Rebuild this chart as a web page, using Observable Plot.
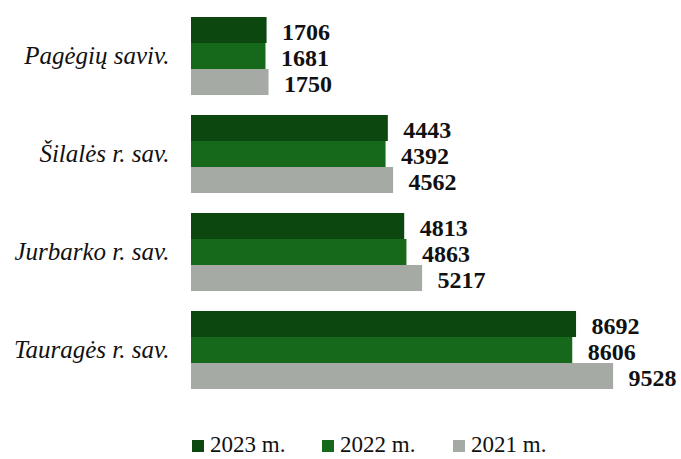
<!DOCTYPE html>
<html>
<head>
<meta charset="utf-8">
<script src="https://cdn.jsdelivr.net/npm/d3@7"></script>
<script src="https://cdn.jsdelivr.net/npm/@observablehq/plot@0.6"></script>
<style>
  html, body { margin: 0; padding: 0; background: #fff; }
  #chart svg { display: block; }
  .legend { position: relative; width: 681px; height: 39px; font-family: "Liberation Serif", "Times New Roman", serif; font-size: 23px; line-height: 23px; color: #111; }
  .legend .sw { position: absolute; top: 20px; width: 12px; height: 12px; }
  .legend .lbl { position: absolute; top: 13px; white-space: nowrap; }
</style>
</head>
<body>
<div id="chart"></div>
<script>
const categories = ["Pagėgių saviv.", "Šilalės r. sav.", "Jurbarko r. sav.", "Tauragės r. sav."];
const series = ["2023 m.", "2022 m.", "2021 m."];
const colors = ["#0c470f", "#16681b", "#a5aaa5"];
const values2023 = [1706, 4443, 4813, 8692];
const values2022 = [1681, 4392, 4863, 8606];
const values2021 = [1750, 4562, 5217, 9528];

const seriesValues = [values2023, values2022, values2021];
const data = [];
categories.forEach((c, i) => {
  series.forEach((s, j) => {
    data.push({cat: c, year: s, value: seriesValues[j][i]});
  });
});

const font = '"Liberation Serif", "Times New Roman", serif';

const chart = Plot.plot({
  width: 681,
  height: 420,
  marginLeft: 191,
  marginRight: 47,
  marginTop: 15,
  marginBottom: 29,
  style: {fontFamily: font, background: "#fff"},
  x: {domain: [0, 10000], axis: null},
  y: {domain: series, padding: 0, axis: null},
  fy: {domain: categories, paddingInner: 0.19, paddingOuter: 0, label: null},
  color: {domain: series, range: colors},
  marks: [
    Plot.barX(data, {x: "value", y: "year", fy: "cat", fill: "year"}),
    Plot.text(data, {x: "value", y: "year", fy: "cat", text: d => String(d.value), textAnchor: "start", dx: 15, dy: 2, fontSize: 24, fontWeight: "bold", fill: "#111", fontFamily: font}),
    Plot.axisFy({anchor: "left", tickSize: 0, tickPadding: 22, fontSize: 25, fontStyle: "italic", fontFamily: font, label: null, color: "#111"})
  ]
});
document.getElementById("chart").appendChild(chart);

const legendX = [192, 322, 453];
const legend = document.createElement("div");
legend.className = "legend";
series.forEach((s, j) => {
  const sw = document.createElement("span");
  sw.className = "sw";
  sw.style.background = colors[j];
  sw.style.left = legendX[j] + "px";
  const t = document.createElement("span");
  t.className = "lbl";
  t.textContent = s;
  t.style.left = (legendX[j] + 18) + "px";
  legend.appendChild(sw);
  legend.appendChild(t);
});
document.body.appendChild(legend);
</script>
</body>
</html>
